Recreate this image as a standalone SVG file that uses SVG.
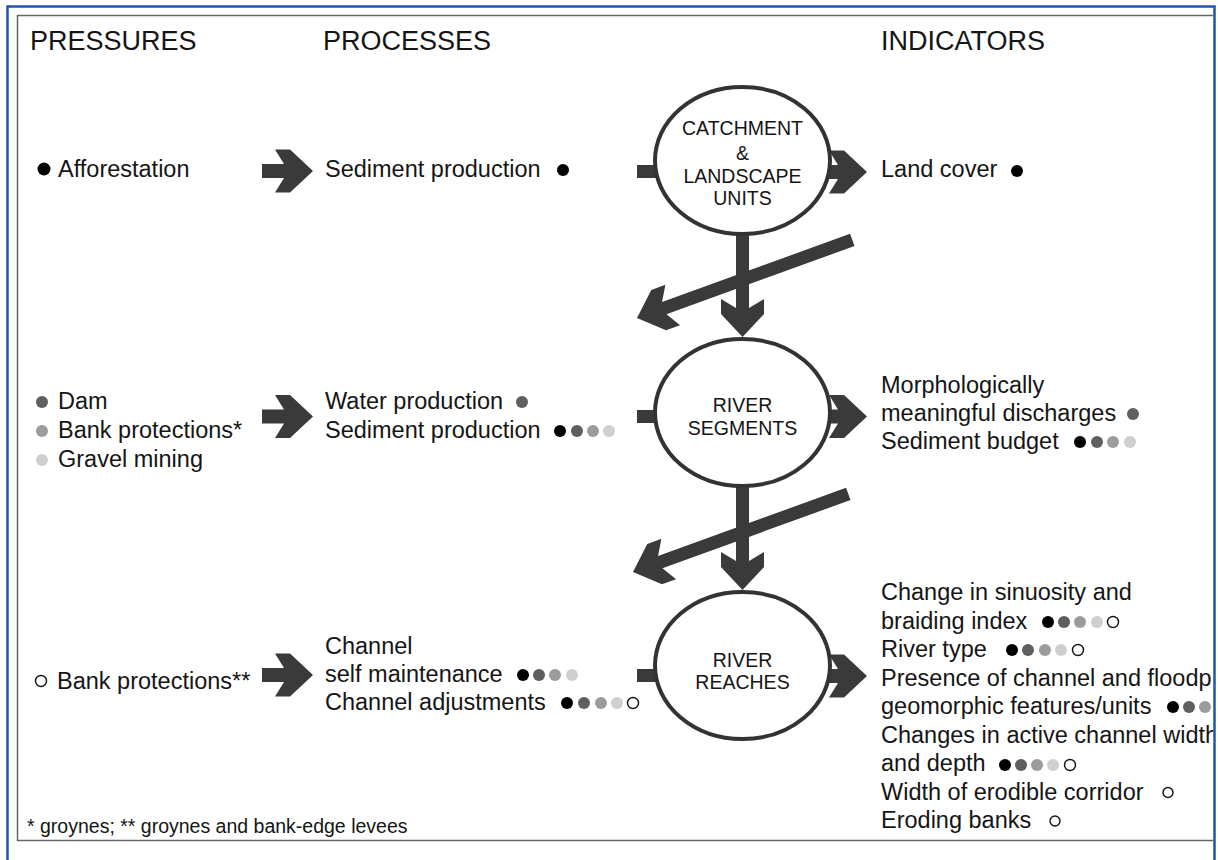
<svg xmlns="http://www.w3.org/2000/svg" xmlns:xlink="http://www.w3.org/1999/xlink" width="1218" height="860" viewBox="0 0 1218 860">
<style>
text{font-family:"Liberation Sans",Arial,sans-serif;fill:#151515}
.h{font-size:27px}
.t{font-size:23.5px}
.c{font-size:19.5px;text-anchor:middle}
.f{font-size:19.5px}
.ar{fill:#3a3a3a}
.node{fill:#fff;stroke:#333;stroke-width:4}
.d0{fill:#000}
.d1{fill:#5f5f5f}
.d2{fill:#9c9c9c}
.d3{fill:#cfcfcf}
.d4{fill:#fff;stroke:#111;stroke-width:1.4}
</style>
<defs>
<path id="blk" d="M-51,-7 L-29,-7 L-38,-21.5 L-23,-21.5 L0,0 L-23,21.5 L-38,21.5 L-29,7 L-51,7 Z"/>
<path id="vdn" d="M-6.5,-105 L-6.5,-29 L-21.5,-38 L-21.5,-23 L0,0 L21.5,-23 L21.5,-38 L6.5,-29 L6.5,-105 Z"/>
<path id="diag" d="M-229,-6.5 L-29,-6.5 L-38,-21.5 L-23,-21.5 L0,0 L-23,21.5 L-38,21.5 L-29,6.5 L-229,6.5 Z"/>
<clipPath id="clip"><rect x="0" y="0" width="1213" height="860"/></clipPath>
</defs>
<rect x="0" y="0" width="1218" height="860" fill="#fff"/>
<g clip-path="url(#clip)">
<rect x="17.5" y="15.5" width="1210" height="825" fill="none" stroke="#666" stroke-width="1.5"/>

<g id="headers">
<text class="h" x="30" y="50">PRESSURES</text>
<text class="h" x="323" y="50">PROCESSES</text>
<text class="h" x="881" y="50">INDICATORS</text>
</g>

<g id="connectors" class="ar">
<use xlink:href="#blk" href="#blk" transform="translate(313,171)"/>
<use xlink:href="#blk" href="#blk" transform="translate(313,416.5)"/>
<use xlink:href="#blk" href="#blk" transform="translate(313,675)"/>
<use xlink:href="#blk" href="#blk" transform="translate(867,172)"/>
<use xlink:href="#blk" href="#blk" transform="translate(867,416.5)"/>
<use xlink:href="#blk" href="#blk" transform="translate(867,676)"/>
<rect x="637" y="165" width="60" height="13"/>
<rect x="637" y="410" width="60" height="13"/>
<rect x="637" y="669" width="60" height="13"/>
<use xlink:href="#vdn" href="#vdn" transform="translate(742.5,337)"/>
<use xlink:href="#vdn" href="#vdn" transform="translate(742.5,590)"/>
<use xlink:href="#diag" href="#diag" transform="translate(637,318) rotate(160.06)"/>
<use xlink:href="#diag" href="#diag" transform="translate(633,572) rotate(160.06)"/>
</g>

<g id="node-catchment">
<ellipse class="node" cx="742.5" cy="160.5" rx="87.5" ry="73.5"/>
<text class="c" x="742.5" y="135">CATCHMENT</text>
<text class="c" x="742.5" y="160">&amp;</text>
<text class="c" x="742.5" y="183">LANDSCAPE</text>
<text class="c" x="742.5" y="205">UNITS</text>
</g>
<g id="node-segments">
<ellipse class="node" cx="742.5" cy="412.5" rx="87.5" ry="73.5"/>
<text class="c" x="742.5" y="412">RIVER</text>
<text class="c" x="742.5" y="435">SEGMENTS</text>
</g>
<g id="node-reaches">
<ellipse class="node" cx="742.5" cy="665.5" rx="87.5" ry="73.5"/>
<text class="c" x="742.5" y="667">RIVER</text>
<text class="c" x="742.5" y="689">REACHES</text>
</g>

<g id="pressures">
<circle class="d0" cx="44" cy="169" r="6.5"/>
<text class="t" x="58" y="177">Afforestation</text>
<circle class="d1" cx="42" cy="402" r="6"/>
<text class="t" x="58" y="409">Dam</text>
<circle class="d2" cx="42" cy="431" r="6"/>
<text class="t" x="58" y="438">Bank protections*</text>
<circle class="d3" cx="42" cy="460" r="6"/>
<text class="t" x="58" y="467">Gravel mining</text>
<circle class="d4" cx="41" cy="681" r="5.5"/>
<text class="t" x="57" y="689">Bank protections**</text>
</g>

<g id="processes">
<text class="t" x="325" y="177">Sediment production</text>
<circle class="d0" cx="563" cy="170" r="6"/>
<text class="t" x="325" y="409">Water production</text>
<circle class="d1" cx="522" cy="402" r="6"/>
<text class="t" x="325" y="438">Sediment production</text>
<circle class="d0" cx="560" cy="431" r="6"/>
<circle class="d1" cx="577" cy="431" r="6"/>
<circle class="d2" cx="593" cy="431" r="6"/>
<circle class="d3" cx="609" cy="431" r="6"/>
<text class="t" x="325" y="654">Channel</text>
<text class="t" x="325" y="682">self maintenance</text>
<circle class="d0" cx="523" cy="675" r="6"/>
<circle class="d1" cx="539" cy="675" r="6"/>
<circle class="d2" cx="555" cy="675" r="6"/>
<circle class="d3" cx="572" cy="675" r="6"/>
<text class="t" x="325" y="710">Channel adjustments</text>
<circle class="d0" cx="567" cy="703" r="6"/>
<circle class="d1" cx="584" cy="703" r="6"/>
<circle class="d2" cx="601" cy="703" r="6"/>
<circle class="d3" cx="617" cy="703" r="6"/>
<circle class="d4" cx="633" cy="703" r="5.5"/>
</g>

<g id="indicators">
<text class="t" x="881" y="177">Land cover</text>
<circle class="d0" cx="1017" cy="171" r="6"/>
<text class="t" x="881" y="393">Morphologically</text>
<text class="t" x="881" y="421">meaningful discharges</text>
<circle class="d1" cx="1133" cy="414" r="6"/>
<text class="t" x="881" y="449">Sediment budget</text>
<circle class="d0" cx="1080" cy="442" r="6"/>
<circle class="d1" cx="1097" cy="442" r="6"/>
<circle class="d2" cx="1113" cy="442" r="6"/>
<circle class="d3" cx="1130" cy="442" r="6"/>
<text class="t" x="881" y="600">Change in sinuosity and</text>
<text class="t" x="881" y="628.5">braiding index</text>
<circle class="d0" cx="1048" cy="622" r="6"/>
<circle class="d1" cx="1064" cy="622" r="6"/>
<circle class="d2" cx="1080" cy="622" r="6"/>
<circle class="d3" cx="1097" cy="622" r="6"/>
<circle class="d4" cx="1113" cy="622" r="5.5"/>
<text class="t" x="881" y="657">River type</text>
<circle class="d0" cx="1012" cy="650" r="6"/>
<circle class="d1" cx="1028" cy="650" r="6"/>
<circle class="d2" cx="1045" cy="650" r="6"/>
<circle class="d3" cx="1061" cy="650" r="6"/>
<circle class="d4" cx="1078" cy="650" r="5.5"/>
<text class="t" x="881" y="685.5">Presence of channel and floodp</text>
<text class="t" x="881" y="714">geomorphic features/units</text>
<circle class="d0" cx="1173" cy="707" r="6"/>
<circle class="d1" cx="1189" cy="707" r="6"/>
<circle class="d2" cx="1205" cy="707" r="6"/>
<text class="t" x="881" y="742.5">Changes in active channel width</text>
<text class="t" x="881" y="771">and depth</text>
<circle class="d0" cx="1005" cy="765" r="6"/>
<circle class="d1" cx="1021" cy="765" r="6"/>
<circle class="d2" cx="1037" cy="765" r="6"/>
<circle class="d3" cx="1053" cy="765" r="6"/>
<circle class="d4" cx="1070" cy="765" r="5.5"/>
<text class="t" x="881" y="799.5">Width of erodible corridor</text>
<circle class="d4" cx="1168" cy="792.5" r="5"/>
<text class="t" x="881" y="828">Eroding banks</text>
<circle class="d4" cx="1055" cy="821" r="5"/>
</g>

<g id="footnote">
<text class="f" x="27" y="833">* groynes; ** groynes and bank-edge levees</text>
</g>
</g>
<rect x="7.5" y="6.5" width="1207" height="900" fill="none" stroke="#1f55ab" stroke-width="2.5"/>
</svg>
